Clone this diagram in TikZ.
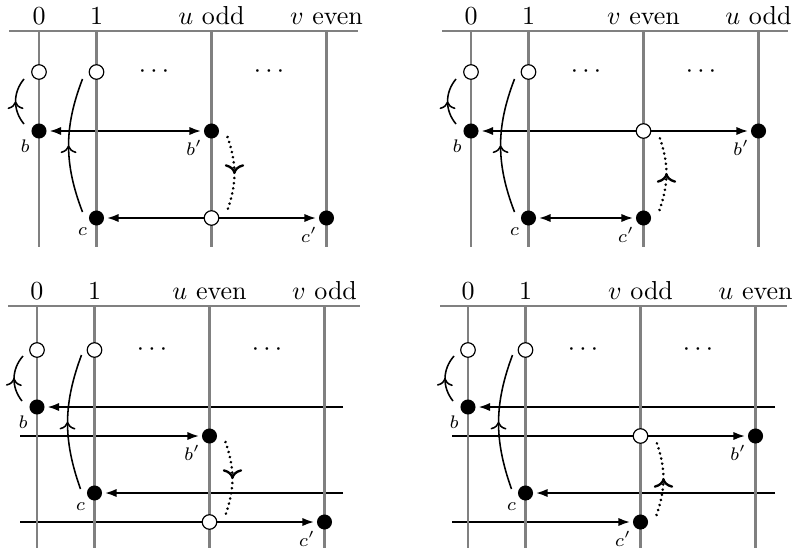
\documentclass[tikz,border=0pt]{standalone}
\usetikzlibrary{arrows.meta,decorations.markings}
\pgfdeclarelayer{bg}
\pgfsetlayers{bg,main}
\definecolor{axisgray}{gray}{0.5}
\tikzset{
  axis/.style={draw=axisgray, line width=0.8pt},
  fdot/.style={circle, fill=black, inner sep=0pt, minimum size=5.8pt},
  odot/.style={circle, draw=black, fill=white, line width=0.45pt, inner sep=0pt, minimum size=5.6pt},
  hd/.style={anchor=base, inner sep=0pt},
  smalllab/.style={font=\scriptsize, inner sep=1.6pt, label distance=-0.6pt},
  harrow/.style={line width=0.85pt, shorten >=0.8pt, -{Latex[length=4.6pt,width=3.2pt]}},
  harrows/.style={line width=0.85pt, shorten >=0.8pt, shorten <=0.8pt, {Latex[length=4.6pt,width=3.2pt]}-{Latex[length=4.6pt,width=3.2pt]}},
  thincurve/.style={line width=0.6pt, postaction={decorate, decoration={markings, mark=at position 0.5 with {\arrow{>}}}}},
  dotcurve/.style={line width=1.1pt, dash pattern=on 0.01pt off 2pt, line cap=round, postaction={decorate, decoration={markings, mark=at position 0.5 with {\arrow[line width=0.9pt]{>}}}}}
}
\begin{document}
\begin{tikzpicture}[x=0.3846pt,y=0.3846pt]
\useasboundingbox (0,0) rectangle (795,-554);

%% Panel 1
\begin{scope}[shift={(39,-31)}]
  \draw[axis] (-30,0) -- (319,0);
  \foreach \xx in {0,57.5,172.5,287.5} \draw[axis] (\xx,0) -- (\xx,-216);
  \node[hd] (p1h0) at (0,6.5) {0};
  \node[hd] (p1h1) at (57.5,6.5) {1};
  \node[hd] (p1hu) at (172.5,6.5) {$u$ odd};
  \node[hd] (p1hv) at (287.5,6.5) {$v$ even};
  \node[odot] (p1o0) at (0,-41) {};
  \node[odot] (p1o1) at (57.5,-41) {};
  \node (p1d1) at (115,-41) {$\cdots$};
  \node (p1d2) at (230,-41) {$\cdots$};
  \node[fdot, label={[smalllab]below left:$b$}] (p1b) at (0,-100) {};
  \node[fdot, label={[smalllab]below left:$b'$}] (p1bp) at (172.5,-100) {};
  \node[fdot, label={[smalllab]below left:$c$}] (p1c) at (57.5,-187) {};
  \node[fdot, label={[smalllab]below left:$c'$}] (p1cp) at (287.5,-187) {};
  \node[odot] (p1x) at (172.5,-187) {};
  \begin{pgfonlayer}{bg}
    \draw[harrows] (p1b) -- (p1bp);
    \draw[harrows] (p1c) -- (p1cp);
  \end{pgfonlayer}
  \draw[thincurve] ([shift={(-15,7)}]p1b.center) to[bend left=40] ([shift={(-15,-7)}]p1o0.center);
  \draw[thincurve] ([shift={(-14,6)}]p1c.center) to[bend left=21] ([shift={(-14,-7)}]p1o1.center);
  \draw[dotcurve] ([shift={(16,-6)}]p1bp.center) to[bend left=19] ([shift={(16,8)}]p1x.center);
\end{scope}

%% Panel 2
\begin{scope}[shift={(471,-31)}]
  \draw[axis] (-29,0) -- (317,0);
  \foreach \xx in {0,57.5,172.5,287.5} \draw[axis] (\xx,0) -- (\xx,-216);
  \node[hd] (p2h0) at (0,6.5) {0};
  \node[hd] (p2h1) at (57.5,6.5) {1};
  \node[hd] (p2hv) at (172.5,6.5) {$v$ even};
  \node[hd] (p2hu) at (287.5,6.5) {$u$ odd};
  \node[odot] (p2o0) at (0,-41) {};
  \node[odot] (p2o1) at (57.5,-41) {};
  \node (p2d1) at (115,-41) {$\cdots$};
  \node (p2d2) at (230,-41) {$\cdots$};
  \node[fdot, label={[smalllab]below left:$b$}] (p2b) at (0,-100) {};
  \node[odot] (p2x) at (172.5,-100) {};
  \node[fdot, label={[smalllab]below left:$b'$}] (p2bp) at (287.5,-100) {};
  \node[fdot, label={[smalllab]below left:$c$}] (p2c) at (57.5,-187) {};
  \node[fdot, label={[smalllab]below left:$c'$}] (p2cp) at (172.5,-187) {};
  \begin{pgfonlayer}{bg}
    \draw[harrows] (p2b) -- (p2bp);
    \draw[harrows] (p2c) -- (p2cp);
  \end{pgfonlayer}
  \draw[thincurve] ([shift={(-15,7)}]p2b.center) to[bend left=40] ([shift={(-15,-7)}]p2o0.center);
  \draw[thincurve] ([shift={(-14,6)}]p2c.center) to[bend left=21] ([shift={(-14,-7)}]p2o1.center);
  \draw[dotcurve] ([shift={(16,8)}]p2cp.center) to[bend right=19] ([shift={(16,-6)}]p2x.center);
\end{scope}

%% Panel 3
\begin{scope}[shift={(37,-306)}]
  \draw[axis] (-29,0) -- (323,0);
  \foreach \xx in {0,57.5,172.5,287.5} \draw[axis] (\xx,0) -- (\xx,-242);
  \node[hd] (p3h0) at (0,6.5) {0};
  \node[hd] (p3h1) at (57.5,6.5) {1};
  \node[hd] (p3hu) at (172.5,6.5) {$u$ even};
  \node[hd] (p3hv) at (287.5,6.5) {$v$ odd};
  \node[odot] (p3o0) at (0,-44) {};
  \node[odot] (p3o1) at (57.5,-44) {};
  \node (p3d1) at (115,-44) {$\cdots$};
  \node (p3d2) at (230,-44) {$\cdots$};
  \node[fdot, label={[smalllab]below left:$b$}] (p3b) at (0,-101) {};
  \node[fdot, label={[smalllab]below left:$b'$}] (p3bp) at (172.5,-130) {};
  \node[fdot, label={[smalllab]below left:$c$}] (p3c) at (57.5,-187) {};
  \node[fdot, label={[smalllab]below left:$c'$}] (p3cp) at (287.5,-216) {};
  \node[odot] (p3x) at (172.5,-216) {};
  \coordinate (p3r1) at (306,-101);
  \coordinate (p3l1) at (-17,-130);
  \coordinate (p3r2) at (306,-187);
  \coordinate (p3l2) at (-17,-216);
  \begin{pgfonlayer}{bg}
    \draw[harrow] (p3r1) -- (p3b);
    \draw[harrow] (p3l1) -- (p3bp);
    \draw[harrow] (p3r2) -- (p3c);
    \draw[harrow] (p3l2) -- (p3cp);
  \end{pgfonlayer}
  \draw[thincurve] ([shift={(-15,6)}]p3b.center) to[bend left=40] ([shift={(-14,-6)}]p3o0.center);
  \draw[thincurve] ([shift={(-14,4)}]p3c.center) to[bend left=20] ([shift={(-13,-5)}]p3o1.center);
  \draw[dotcurve] ([shift={(16,-6)}]p3bp.center) to[bend left=19] ([shift={(16,7)}]p3x.center);
\end{scope}

%% Panel 4
\begin{scope}[shift={(468,-306)}]
  \draw[axis] (-28,0) -- (319,0);
  \foreach \xx in {0,57.5,172.5,287.5} \draw[axis] (\xx,0) -- (\xx,-242);
  \node[hd] (p4h0) at (0,6.5) {0};
  \node[hd] (p4h1) at (57.5,6.5) {1};
  \node[hd] (p4hv) at (172.5,6.5) {$v$ odd};
  \node[hd] (p4hu) at (287.5,6.5) {$u$ even};
  \node[odot] (p4o0) at (0,-44) {};
  \node[odot] (p4o1) at (57.5,-44) {};
  \node (p4d1) at (115,-44) {$\cdots$};
  \node (p4d2) at (230,-44) {$\cdots$};
  \node[fdot, label={[smalllab]below left:$b$}] (p4b) at (0,-101) {};
  \node[odot] (p4x) at (172.5,-130) {};
  \node[fdot, label={[smalllab]below left:$b'$}] (p4bp) at (287.5,-130) {};
  \node[fdot, label={[smalllab]below left:$c$}] (p4c) at (57.5,-187) {};
  \node[fdot, label={[smalllab]below left:$c'$}] (p4cp) at (172.5,-216) {};
  \coordinate (p4r1) at (307,-101);
  \coordinate (p4l1) at (-16,-130);
  \coordinate (p4r2) at (307,-187);
  \coordinate (p4l2) at (-16,-216);
  \begin{pgfonlayer}{bg}
    \draw[harrow] (p4r1) -- (p4b);
    \draw[harrow] (p4l1) -- (p4bp);
    \draw[harrow] (p4r2) -- (p4c);
    \draw[harrow] (p4l2) -- (p4cp);
  \end{pgfonlayer}
  \draw[thincurve] ([shift={(-15,6)}]p4b.center) to[bend left=40] ([shift={(-14,-6)}]p4o0.center);
  \draw[thincurve] ([shift={(-14,4)}]p4c.center) to[bend left=20] ([shift={(-13,-5)}]p4o1.center);
  \draw[dotcurve] ([shift={(16,7)}]p4cp.center) to[bend right=19] ([shift={(16,-6)}]p4x.center);
\end{scope}
\end{tikzpicture}
\end{document}
